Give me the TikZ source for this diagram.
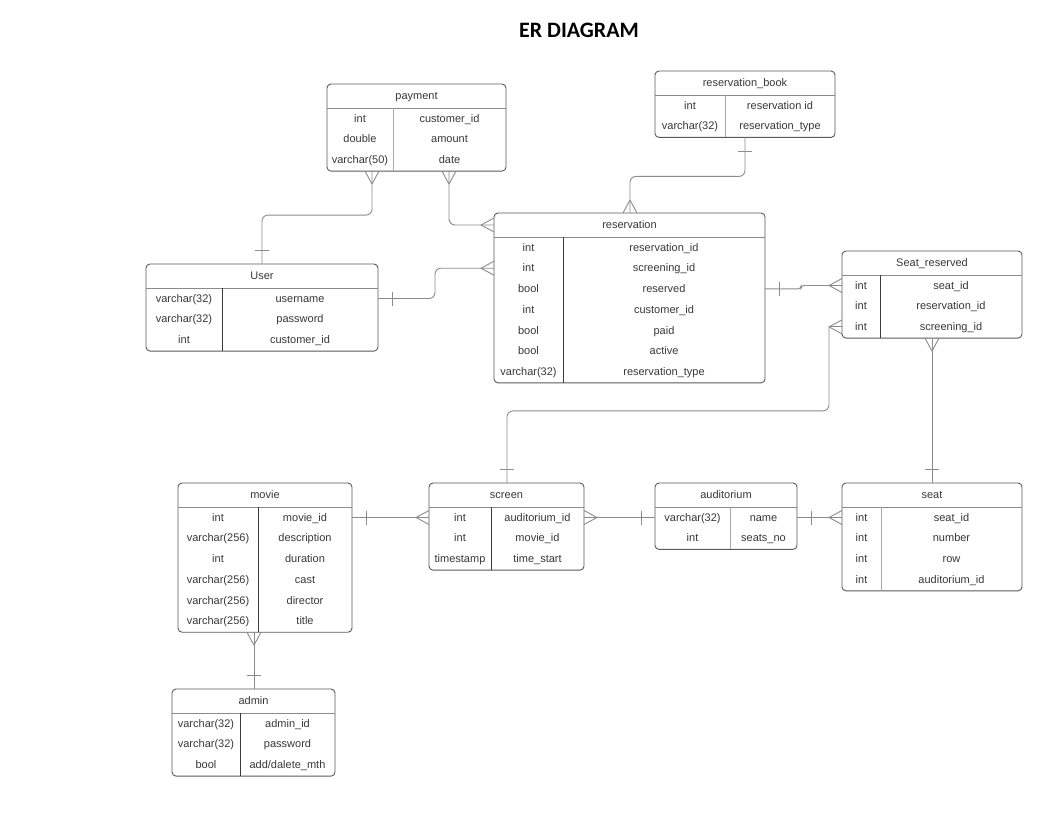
\documentclass[tikz,border=0pt]{standalone}
\usepackage{fontspec}
\setmainfont{Liberation Sans}
\newfontfamily\titlefont{Carlito}
\usetikzlibrary{calc}
\definecolor{txtc}{HTML}{383838}
\definecolor{boxc}{HTML}{5A5A5A}
\definecolor{hdrc}{HTML}{8A8A8A}
\definecolor{darkdiv}{HTML}{3A3A3A}
\definecolor{lightdiv}{HTML}{AAAAAA}
\definecolor{connc}{HTML}{8C8C8C}
\tikzset{
 tbl/.style={draw=boxc, line width=0.9pt, rounded corners=4pt, inner sep=0pt, outer sep=0pt, fill=white},
 hdr/.style={draw=hdrc, line width=0.9pt},
 dk/.style={draw=darkdiv, line width=0.9pt},
 lt/.style={draw=lightdiv, line width=0.9pt},
 txt/.style={text=txtc, font=\fontsize{11}{13}\selectfont, inner sep=0pt, text height=8pt, text depth=2.5pt},
 conn/.style={draw=connc, line width=0.9pt},
 ttl/.style={font=\titlefont\bfseries\fontsize{22}{26}\selectfont, text=black}
}
% id, left, top, right, divx, n, title, rows, divider style
\newcommand\ertable[9]{%
 \pgfmathsetmacro\ebot{#3+25+#6*20.7}%
 \pgfmathsetmacro\ewid{#4-#2}%
 \pgfmathsetmacro\ehgt{\ebot-#3}%
 \node[tbl, anchor=north west, minimum width=\ewid pt, minimum height=\ehgt pt] (#1) at (#2,#3) {};
 \draw[hdr] (#2,{#3+24}) -- (#4,{#3+24});
 \draw[#9] (#5,{#3+24}) -- (#5,\ebot);
 \node[txt] (#1-title) at ({(#2+#4)/2},{#3+13}) {#7};
 \coordinate (#1-h-w) at (#2,{#3+12});
 \coordinate (#1-h-e) at (#4,{#3+12});
 \foreach \ty/\nm [count=\k] in {#8} {
   \pgfmathsetmacro\ry{#3+24+10.5+(\k-1)*20.7}
   \node[txt] (#1-\k-type) at ({(#2+#5)/2},\ry+1) {\ty};
   \node[txt] (#1-\k-name) at ({(#5+#4)/2},\ry+1) {\nm};
   \coordinate (#1-\k-w) at (#2,\ry);
   \coordinate (#1-\k-e) at (#4,\ry);
 }
}
\newcommand\crowfoot[2]{\begin{scope}[shift={(#1)},rotate=#2]\draw[conn] (13,0) -- (0,7) (13,0) -- (0,-7);\end{scope}}
\newcommand\onebar[2]{\begin{scope}[shift={(#1)},rotate=#2]\draw[conn] (14,7) -- (14,-7);\end{scope}}
\begin{document}
\begin{tikzpicture}[x=1pt,y=-1pt]
\useasboundingbox[fill=white] (0,0) rectangle (1055,822);
\node[ttl] (title) at (579,30) {ER DIAGRAM};

\ertable{payment}{327}{84}{506}{393}{3}{payment}{int/customer\_id, double/amount, varchar(50)/date}{lt}
\ertable{rbook}{655}{71}{835}{725}{2}{reservation\_book}{int/reservation id, varchar(32)/reservation\_type}{lt}
\ertable{reservation}{494}{213}{765}{563}{7}{reservation}{int/reservation\_id, int/screening\_id, bool/reserved, int/customer\_id, bool/paid, bool/active, varchar(32)/reservation\_type}{dk}
\ertable{user}{146}{264}{378}{222}{3}{User}{varchar(32)/username, varchar(32)/password, int/customer\_id}{dk}
\ertable{seatres}{842}{251}{1022}{880}{3}{Seat\_reserved}{int/seat\_id, int/reservation\_id, int/screening\_id}{dk}
\ertable{movie}{178}{483}{352}{258}{6}{movie}{int/movie\_id, varchar(256)/description, int/duration, varchar(256)/cast, varchar(256)/director, varchar(256)/title}{dk}
\ertable{screen}{429}{483}{584}{491}{3}{screen}{int/auditorium\_id, int/movie\_id, timestamp/time\_start}{dk}
\ertable{auditorium}{655}{483}{797}{730}{2}{auditorium}{varchar(32)/name, int/seats\_no}{lt}
\ertable{seat}{842}{483}{1022}{881}{4}{seat}{int/seat\_id, int/number, int/row, int/auditorium\_id}{lt}
\ertable{admin}{172}{689}{335}{240}{3}{admin}{varchar(32)/admin\_id, varchar(32)/password, bool/add\slash dalete\_mth}{dk}

\coordinate (payA) at ($(payment.south west)+(45,0)$);
\coordinate (payB) at ($(payment.south west)+(122,0)$);
\coordinate (userT) at ($(user.north west)+(116,0)$);
\coordinate (rbB) at ($(rbook.south west)+(90,0)$);
\coordinate (resT) at ($(reservation.north west)+(136,0)$);
\coordinate (srB) at ($(seatres.south west)+(90,0)$);
\coordinate (seatT) at ($(seat.north west)+(90,0)$);
\coordinate (screenT) at ($(screen.north west)+(78,0)$);
\coordinate (movieB) at ($(movie.south west)+(76,0)$);
\coordinate (adminT) at ($(admin.north west)+(82,0)$);

% payment - User
\draw[conn, rounded corners=6pt] (payA) -- ++(0,44) -| (userT);
\crowfoot{payA}{270}\onebar{userT}{90}
% payment - reservation
\draw[conn, rounded corners=6pt] (payB) |- (reservation-h-w);
\crowfoot{payB}{270}\crowfoot{reservation-h-w}{180}
% reservation_book - reservation
\draw[conn, rounded corners=6pt] (rbB) -- ++(0,39) -| (resT);
\onebar{rbB}{270}\crowfoot{resT}{90}
% User - reservation
\draw[conn, rounded corners=6pt] (user-1-e) -- ++(57,0) |- (reservation-2-w);
\onebar{user-1-e}{0}\crowfoot{reservation-2-w}{180}
% reservation - Seat_reserved
\draw[conn, rounded corners=3pt] (reservation-3-e) -- ++(36,0) |- (seatres-1-w);
\onebar{reservation-3-e}{0}\crowfoot{seatres-1-w}{180}
% Seat_reserved - screen
\draw[conn] (seatres-3-w) -- ++(-13,0) coordinate (srtip);
\draw[conn, rounded corners=6pt] (srtip) -- ++(0,84) -| (screenT);
\crowfoot{seatres-3-w}{180}\onebar{screenT}{90}
% Seat_reserved - seat
\draw[conn] (srB) -- (seatT);
\crowfoot{srB}{270}\onebar{seatT}{90}
% movie - screen
\draw[conn] (movie-1-e) -- (screen-1-w);
\onebar{movie-1-e}{0}\crowfoot{screen-1-w}{180}
% screen - auditorium
\draw[conn] (screen-1-e) -- (auditorium-1-w);
\crowfoot{screen-1-e}{0}\onebar{auditorium-1-w}{180}
% auditorium - seat
\draw[conn] (auditorium-1-e) -- (seat-1-w);
\onebar{auditorium-1-e}{0}\crowfoot{seat-1-w}{180}
% movie - admin
\draw[conn] (movieB) -- (adminT);
\crowfoot{movieB}{270}\onebar{adminT}{90}
\end{tikzpicture}
\end{document}
